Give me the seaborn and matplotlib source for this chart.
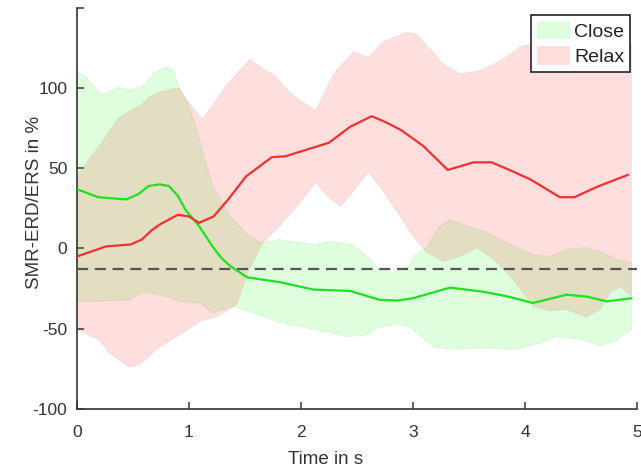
import matplotlib
matplotlib.use("Agg")
import matplotlib.pyplot as plt
from matplotlib.patches import Patch
import seaborn as sns
import pandas as pd

# ---- data ----
close_mean_t = [0, 0.19, 0.44, 0.55, 0.64, 0.74, 0.82, 0.9, 0.97, 1.09, 1.21, 1.29, 1.37, 1.52, 1.81,
                2.11, 2.44, 2.7, 2.86, 3.0, 3.33, 3.63, 3.85, 4.07, 4.37, 4.55, 4.73, 4.95]
close_mean_v = [37, 32, 30.6, 34, 39, 40, 39, 33, 24, 14, 1.25, -6, -11, -18, -21,
                -25.6, -26.5, -32, -32.5, -31, -24.4, -27, -30, -34, -28.8, -30, -33, -31]

relax_mean_t = [0, 0.26, 0.48, 0.58, 0.66, 0.74, 0.9, 1.0, 1.09, 1.22, 1.35, 1.51, 1.74, 1.86, 2.09,
                2.25, 2.44, 2.63, 2.75, 2.89, 3.09, 3.31, 3.54, 3.7, 3.86, 4.05, 4.31, 4.44,
                4.66, 4.92]
relax_mean_v = [-5, 1.3, 2.5, 5.6, 11, 15, 21, 20, 16, 20, 30.6, 45, 57, 57.5, 62.5,
                66, 76, 82.5, 79, 74, 64, 49, 53.75, 53.75, 49, 43, 32, 32,
                39, 46]

close_hi_t = [0, 0.07, 0.22, 0.37, 0.47, 0.58, 0.7, 0.79, 0.85, 0.92, 0.99, 1.04, 1.21, 1.37, 1.52,
              1.63, 1.81, 2.11, 2.26, 2.46, 2.59, 2.7, 2.82, 2.97, 3.0, 3.12, 3.24, 3.33, 3.48,
              3.66, 3.78, 3.93, 4.07, 4.22, 4.37, 4.55, 4.67, 4.82, 4.95]
close_hi_v = [111, 107.5, 96, 100.6, 99, 101, 110, 113, 112, 99.4, 90, 80.6, 39, 20, 8.75,
              3.75, 5.6, 2.5, 4.4, 2.5, -5, -13, -15, -11, -5, 0.6, 14, 18, 14,
              10, 5.6, 0.6, -3.75, -5, -0.6, 0.6, -1.9, -7, -8.75]

close_lo_t = [0, 0.2, 0.47, 0.59, 0.8, 0.92, 1.1, 1.21, 1.39, 1.66, 1.81, 2.11, 2.41, 2.59, 2.7,
              2.86, 2.97, 3.03, 3.18, 3.33, 3.63, 3.93, 4.13, 4.28, 4.52, 4.67, 4.82, 4.95]
close_lo_v = [-33, -33, -32, -27, -30, -33, -34, -40, -36, -42.5, -46, -50.6, -55, -54, -48.8,
              -47.5, -49, -52.5, -61, -63, -62, -63, -59, -55, -57, -61, -57, -50.6]

relax_hi_t = [0, 0.1, 0.2, 0.27, 0.36, 0.43, 0.5, 0.58, 0.65, 0.76, 0.88, 0.92, 1.0, 1.12, 1.32,
              1.54, 1.77, 1.92, 2.13, 2.29, 2.47, 2.6, 2.73, 2.94, 3.03, 3.27, 3.42, 3.6, 3.78,
              3.96, 4.2, 4.5, 4.75, 4.95]
relax_hi_v = [45, 55, 64, 71, 80.6, 84, 87, 90, 95, 98, 100, 99.4, 91, 80.6, 100.6,
              118, 107.5, 96, 86, 109, 123, 119, 129, 135, 134, 115, 109, 111, 117,
              126, 130, 128, 130, 128]

relax_lo_t = [0, 0.2, 0.3, 0.47, 0.56, 0.71, 0.89, 1.1, 1.25, 1.39, 1.43, 1.54, 1.66, 1.81, 1.96,
              2.13, 2.24, 2.35, 2.46, 2.6, 2.7, 2.86, 3.0, 3.12, 3.27, 3.42, 3.57, 3.72, 3.87,
              4.07, 4.22, 4.37, 4.55, 4.67, 4.76, 4.85, 4.95]
relax_lo_v = [-50.6, -57, -66, -74, -72.5, -63, -55, -45.6, -42.5, -37, -34, -13, 3.75, 14, 26,
              41, 32.5, 26, 35, 47.5, 39, 22.5, 7.5, -2.5, -8, -5, 0.6, -7, -17.5,
              -36, -39, -38, -43, -38, -27.5, -24, -30]

baseline = -13
series_names = ["Close", "Relax"]
x_ticks = [0, 1, 2, 3, 4, 5]
y_ticks = [-100, -50, 0, 50, 100]

# ---- style ----
sns.set_style("white")
plt.rcParams["font.family"] = ["Liberation Sans", "DejaVu Sans"]
plt.rcParams["axes.unicode_minus"] = False
dark = "#333333"
green_line = "#1ee01e"
red_line = "#f03030"
alpha = 0.13

fig = plt.figure(figsize=(6.41, 4.71), dpi=100)
ax = fig.add_axes([0.120, 0.132, 0.874, 0.851])

def band(t_hi, v_hi, t_lo, v_lo, color):
    xs = list(t_hi) + list(reversed(t_lo))
    ys = list(v_hi) + list(reversed(v_lo))
    ax.fill(xs, ys, facecolor=color, alpha=alpha, edgecolor="none", zorder=1)
    ax.plot(xs + [xs[0]], ys + [ys[0]], color="#999999", alpha=0.12, lw=0.8, zorder=1)

band(close_hi_t, close_hi_v, close_lo_t, close_lo_v, (0, 1, 0))
band(relax_hi_t, relax_hi_v, relax_lo_t, relax_lo_v, (1, 0, 0))

df_close = pd.DataFrame({"t": close_mean_t, "v": close_mean_v})
df_relax = pd.DataFrame({"t": relax_mean_t, "v": relax_mean_v})
sns.lineplot(data=df_close, x="t", y="v", ax=ax, color=green_line, lw=1.6, zorder=3)
sns.lineplot(data=df_relax, x="t", y="v", ax=ax, color=red_line, lw=1.6, zorder=3)

ax.axhline(baseline, color="#555555", lw=1.6, ls=(0, (5, 3)), zorder=4)

ax.set_xlim(0, 5)
ax.set_ylim(-100, 150)
ax.set_xticks(x_ticks)
ax.set_yticks(y_ticks)
ax.set_yticks([150], minor=True)
ax.set_xticklabels([str(v) for v in x_ticks])
ax.set_yticklabels([str(v) for v in y_ticks])
ax.tick_params(axis="both", which="both", direction="in", length=5, width=1.1,
               colors=dark, labelsize=12.5, left=True, bottom=True)
ax.tick_params(axis="x", pad=12)
ax.tick_params(axis="y", pad=7)
for s in ["top", "right"]:
    ax.spines[s].set_visible(False)
for s in ["left", "bottom"]:
    ax.spines[s].set_color(dark)
    ax.spines[s].set_linewidth(1.2)

ax.set_xlabel("Time in s", fontsize=13.5, color=dark)
ax.set_ylabel("SMR-ERD/ERS in %", fontsize=13.5, color=dark)
ax.xaxis.set_label_coords(0.443, -0.105)
ax.yaxis.set_label_coords(-0.06, 0.515)

handles = [Patch(facecolor=(0, 1, 0, alpha), edgecolor="none"),
           Patch(facecolor=(1, 0, 0, alpha), edgecolor="none")]
leg = ax.legend(handles, series_names, loc="upper right", bbox_to_anchor=(0.9875, 0.983),
                fontsize=14, frameon=True, fancybox=False, framealpha=1, edgecolor="#222222",
                handlelength=1.7, handleheight=1.1, labelspacing=0.3, borderpad=0.3,
                handletextpad=0.2, borderaxespad=0)
leg.get_frame().set_linewidth(1.2)
for txt in leg.get_texts():
    txt.set_color("#222222")

fig.savefig("out.png", dpi=100)
